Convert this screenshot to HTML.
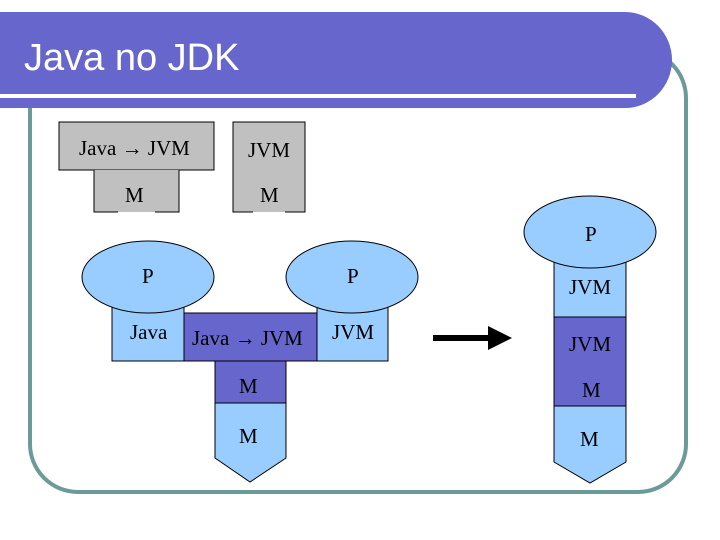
<!DOCTYPE html>
<html><head><style>body{margin:0;background:#fff}svg{display:block}</style></head><body>
<svg width="720" height="540" xmlns="http://www.w3.org/2000/svg" font-family="Liberation Serif, serif" font-size="21" fill="#000">
<rect x="30" y="50" width="656" height="442" rx="48" fill="none" stroke="#6a9a9a" stroke-width="4"/>
<path d="M0 12 H625 A47 48 0 0 1 625 108 H0 Z" fill="#6666cc"/>
<rect x="0" y="94" width="636" height="4" fill="#fff"/>
<text x="24" y="70" font-family="Liberation Sans, sans-serif" font-size="38" fill="#fff">Java no JDK</text>
<g stroke="#000" stroke-width="1">
<rect x="59" y="122" width="155" height="48" fill="#c0c0c0"/>
<rect x="94" y="170" width="85" height="42" fill="#c0c0c0" stroke="none"/>
<path d="M94 170 V212 H118 M155 212 H179 V170" fill="none"/>
<rect x="233" y="122" width="72" height="90" fill="#c0c0c0" stroke="none"/>
<path d="M253 212 H233 V122 H305 V212 H285" fill="none"/>
<rect x="112" y="300" width="72" height="61" fill="#99ccff"/>
<rect x="317" y="300" width="71" height="61" fill="#99ccff"/>
<ellipse cx="148" cy="277" rx="66" ry="36" fill="#99ccff"/>
<ellipse cx="352" cy="277" rx="66" ry="36" fill="#99ccff"/>
<rect x="184" y="313" width="133" height="48" fill="#6666cc"/>
<rect x="215" y="361" width="71" height="42" fill="#6666cc"/>
<path d="M215 403 H286 V458 L250 482 L215 458 Z" fill="#99ccff"/>
<path d="M554 250 H626 V462 L590 483 L554 462 Z" fill="#99ccff"/>
<rect x="554" y="317" width="72" height="89" fill="#6666cc"/>
<ellipse cx="590" cy="232" rx="66" ry="36" fill="#99ccff"/>
</g>
<text x="79" y="155">Java → JVM</text>
<text x="248" y="157">JVM</text>
<text x="125" y="202">M</text>
<text x="260" y="202">M</text>
<text x="142" y="283">P</text>
<text x="347" y="283">P</text>
<text x="130" y="339">Java</text>
<text x="192" y="345">Java → JVM</text>
<text x="332" y="339">JVM</text>
<text x="239" y="393">M</text>
<text x="239" y="443">M</text>
<text x="585" y="241">P</text>
<text x="569" y="294">JVM</text>
<text x="569" y="351">JVM</text>
<text x="582" y="397">M</text>
<text x="580" y="446">M</text>
<rect x="433" y="335" width="58" height="6" fill="#000"/>
<path d="M488 326 L512 338 L488 350 Z" fill="#000"/>
</svg>
</body></html>
